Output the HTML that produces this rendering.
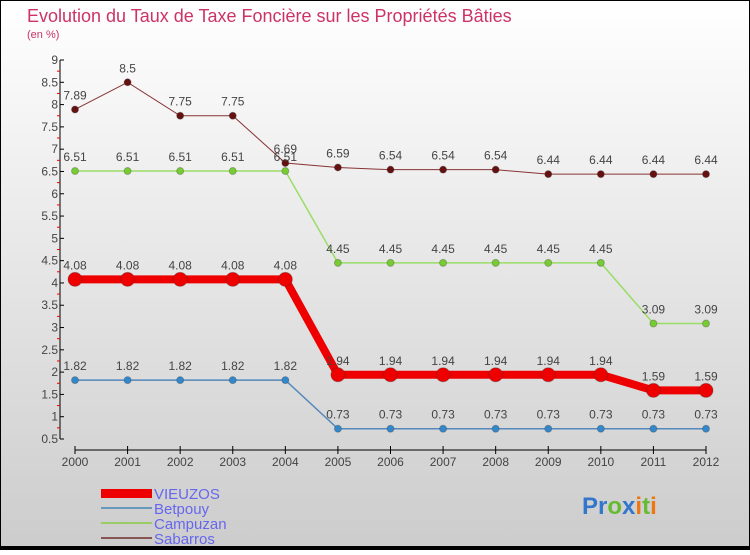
<!DOCTYPE html>
<html><head><meta charset="utf-8"><style>
body{margin:0;}
#c{width:750px;height:550px;position:relative;font-family:"Liberation Sans",sans-serif;}
</style></head><body>
<div id="c">
<svg width="750" height="550" xmlns="http://www.w3.org/2000/svg" id="svg">
<defs><linearGradient id="bg" x1="0" y1="0" x2="0" y2="1"><stop offset="0" stop-color="#ffffff"/><stop offset="1" stop-color="#cccccc"/></linearGradient></defs>
<rect x="0.5" y="0.5" width="749" height="549" fill="url(#bg)" stroke="#000"/>
<rect x="0" y="546" width="750" height="4" fill="#000"/>
<text x="27" y="22" font-size="18" fill="#cc3366">Evolution du Taux de Taxe Foncière sur les Propriétés Bâties</text>
<text x="27" y="38" font-size="11" fill="#cc3366">(en %)</text>
<g id="axes"></g><g id="series"></g>
<g>
<rect x="101" y="489" width="51" height="9" fill="#ee0000"/>
<rect x="101" y="507" width="51" height="2" fill="#6699bb"/>
<rect x="101" y="522" width="51" height="2" fill="#99cc66"/>
<rect x="101" y="537" width="51" height="2" fill="#885555"/>
<text x="154" y="499" font-size="15" fill="#6666ee">VIEUZOS</text>
<text x="154" y="514" font-size="15" fill="#6666ee">Betpouy</text>
<text x="154" y="529" font-size="15" fill="#6666ee">Campuzan</text>
<text x="154" y="544" font-size="15" fill="#6666ee">Sabarros</text>
</g>
<g font-size="24" font-weight="bold">
<text x="582" y="514"><tspan fill="#3377cc">Pr</tspan><tspan fill="#66bb33">o</tspan><tspan fill="#3377cc">x</tspan><tspan fill="#ee7711">i</tspan><tspan fill="#66bb33">t</tspan><tspan fill="#ee7711">i</tspan></text>
</g>
</svg>
</div>
<script>
const years=[2000,2001,2002,2003,2004,2005,2006,2007,2008,2009,2010,2011,2012];
const vieuzos=[4.08,4.08,4.08,4.08,4.08,1.94,1.94,1.94,1.94,1.94,1.94,1.59,1.59];
const betpouy=[1.82,1.82,1.82,1.82,1.82,0.73,0.73,0.73,0.73,0.73,0.73,0.73,0.73];
const campuzan=[6.51,6.51,6.51,6.51,6.51,4.45,4.45,4.45,4.45,4.45,4.45,3.09,3.09];
const sabarros=[7.89,8.5,7.75,7.75,6.69,6.59,6.54,6.54,6.54,6.44,6.44,6.44,6.44];
const yTicks=[0.5,1,1.5,2,2.5,3,3.5,4,4.5,5,5.5,6,6.5,7,7.5,8,8.5,9];
const NS="http://www.w3.org/2000/svg";
const xs=i=>75+i*(706-75)/(years.length-1);
const ys=v=>439-(v-0.5)*(379/8.5);
function mk(t,a,p){const e=document.createElementNS(NS,t);for(const k in a)e.setAttribute(k,a[k]);p.appendChild(e);return e;}
const ax=document.getElementById('axes');
const yl=mk('line',{x1:60,y1:ys(9),x2:60,y2:ys(0.5),stroke:'#000','stroke-width':1},ax);


yTicks.forEach(v=>{
  mk('line',{x1:60,y1:ys(v),x2:64,y2:ys(v),stroke:'#000'},ax);
  if(v<9) mk('line',{x1:57,y1:ys(v+0.25),x2:60,y2:ys(v+0.25),stroke:'#e00'},ax);
  const t=mk('text',{x:58,y:ys(v)+4,'font-size':12,fill:'#444','text-anchor':'end'},ax);
  t.textContent=v;
  
  
});
const xl=mk('line',{x1:xs(0),y1:450,x2:xs(12),y2:450,stroke:'#000'},ax);


years.forEach((y,i)=>{
  mk('line',{x1:xs(i),y1:446,x2:xs(i),y2:454,stroke:'#000'},ax);
  const t=mk('text',{x:xs(i),y:466,'font-size':12,fill:'#444','text-anchor':'middle'},ax);
  t.textContent=y;
  
  
});
const sg=document.getElementById('series');
function series(name,d,col,dot,w,r){
  const g=mk('g',{},sg);
  
  
  mk('polyline',{points:d.map((v,i)=>xs(i)+','+ys(v)).join(' '),fill:'none',stroke:col,'stroke-width':w},g);
  d.forEach((v,i)=>{
    const c=mk('circle',{cx:xs(i),cy:ys(v),r:r,fill:dot,stroke:'#333','stroke-opacity':0.3},g);
    
    
    const t=mk('text',{x:xs(i),y:ys(v)-10,'font-size':12,fill:'#444','text-anchor':'middle'},g);
    t.textContent=v.toFixed(2).replace(/0$/,'').replace(/\.$/,'');
    
    
  });
}
series('sabarros',sabarros,'#883333','#661111',1,3.5);
series('campuzan',campuzan,'#99dd66','#77cc33',1.5,3.5);
series('betpouy',betpouy,'#5588bb','#3388cc',1.5,3.5);
series('vieuzos',vieuzos,'#ee0000','#ee0000',8,7);
</script>
</body></html>
